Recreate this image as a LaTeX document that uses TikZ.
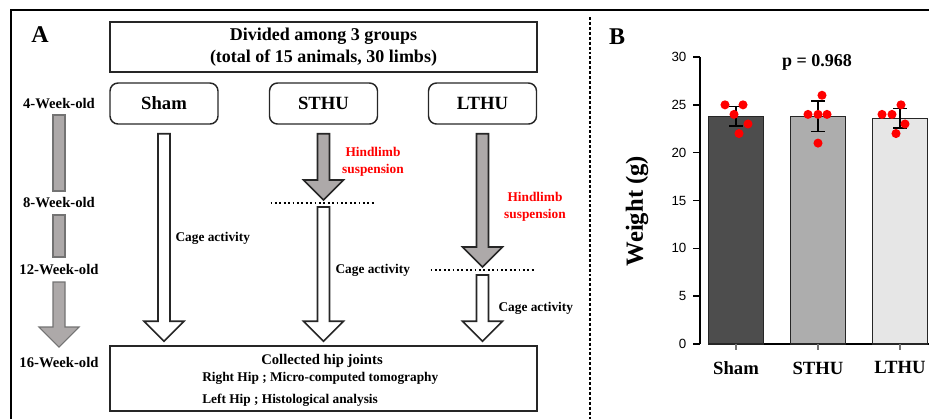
\documentclass[tikz,border=0pt]{standalone}
\usepackage{fontspec}
\setmainfont{Liberation Serif}
\setsansfont{Liberation Sans}
\usepackage{tikz}
\usetikzlibrary{calc}
\definecolor{arrgray}{HTML}{ADA9A9}
\definecolor{edge}{HTML}{262626}
\definecolor{hls}{HTML}{FF0000}
\definecolor{barA}{HTML}{4D4D4D}
\definecolor{barB}{HTML}{ADADAD}
\definecolor{barC}{HTML}{E6E6E6}
\tikzset{
  outline/.style={draw=black, line width=1.5pt},
  sepline/.style={draw=black, line width=2pt, dash pattern=on 2.2pt off 1.5pt},
  stageline/.style={draw=black, line width=1.2pt, dash pattern=on 1.4pt off 1.9pt},
  panlab/.style={font=\bfseries\fontsize{18}{20}\selectfont},
  infobox/.style={draw=edge, line width=1.1pt, minimum width=320.25pt, align=center,
    font=\bfseries\fontsize{13.5}{16.5}\selectfont},
  grpbox/.style={draw=edge, line width=1.1pt, rounded corners=6pt, minimum width=81pt,
    minimum height=30.75pt, font=\bfseries\fontsize{14}{16}\selectfont},
  agelab/.style={font=\bfseries\fontsize{11}{13}\selectfont},
  redlab/.style={text=hls, align=center, font=\bfseries\fontsize{10}{12.75}\selectfont},
  cagelab/.style={inner sep=1pt, font=\bfseries\fontsize{10}{12}\selectfont},
  boxtxt/.style={inner sep=1pt, font=\bfseries\fontsize{11}{13}\selectfont},
  boxsub/.style={inner sep=0pt, font=\bfseries\fontsize{10}{12}\selectfont},
  whitearr/.style={draw=edge, fill=white, line width=1.2pt},
  grayarr/.style={draw=edge, fill=arrgray, line width=1.2pt},
  timebar/.style={draw=black!55, fill=arrgray, line width=0.8pt},
  axisline/.style={draw=black, line width=1.1pt},
  xtick/.style={draw=black!55, line width=1.1pt},
  bar/.style={draw=edge, line width=0.8pt},
  errbar/.style={draw=black, line width=1.1pt},
  ptdot/.style={fill=hls},
  pval/.style={font=\bfseries\fontsize{13.5}{16}\selectfont},
  ylab/.style={font=\bfseries\fontsize{18.5}{20}\selectfont},
  grplab/.style={font=\bfseries\fontsize{14}{16}\selectfont},
  ticklab/.style={inner sep=1pt, font=\sffamily\fontsize{10}{11}\selectfont}
}
\newcommand{\blockarr}[3][whitearr]{%
  \draw[#1] ($(#2)+(-6,0)$) -- ($(#3)+(-6,-20)$) -- ($(#3)+(-20,-20)$) -- (#3)
    -- ($(#3)+(20,-20)$) -- ($(#3)+(6,-20)$) -- ($(#2)+(6,0)$) -- cycle;}

\begin{document}
\begin{tikzpicture}[x=0.75pt, y=-0.75pt]
  \useasboundingbox (0,0) rectangle (929,419);
  \draw[outline] (11,419) -- (11,10) -- (929,10);
  \draw[sepline] (590,17) -- (590,419);

  % panel A
  \node[panlab] (labA) at (40,35) {A};
  \node[infobox, minimum height=37.5pt] (groups) at (323.5,47)
    {Divided among 3 groups\\(total of 15 animals, 30 limbs)};
  \node[grpbox] (sham) at (164,103.5) {Sham};
  \node[grpbox] (sthu) at (323.5,103.5) {STHU};
  \node[grpbox] (lthu) at (482.5,103.5) {LTHU};
  \node[infobox, minimum height=48.75pt] (collect) at (323.5,378.5) {};
  \node[boxtxt] (hipT) at (322,361) {Collected hip joints};
  \node[boxsub, anchor=west] (hipR) at (202,378) {Right Hip ; Micro-computed tomography};
  \node[boxsub, anchor=west] (hipL) at (202,400) {Left Hip ; Histological analysis};

  \node[agelab] (w4) at (59,104) {4-Week-old};
  \node[agelab] (w8) at (59,203) {8-Week-old};
  \node[agelab] (w12) at (59,270) {12-Week-old};
  \node[agelab] (w16) at (59,363) {16-Week-old};
  \draw[timebar] ($(w4)+(-6,11)$) rectangle ($(w8)+(6,-12)$);
  \draw[timebar] ($(w8)+(-6,12)$) rectangle ($(w12)+(6,-13)$);
  \coordinate (tS) at ($(w12)+(0,12)$);
  \coordinate (tE) at ($(w16)+(0,-16)$);
  \blockarr[timebar]{tS}{tE}

  \coordinate (sthuCut) at (323.5,203);
  \coordinate (lthuCut) at (482.5,270);
  \draw[stageline] ($(sthuCut)+(-53,0)$) -- ($(sthuCut)+(52,0)$);
  \draw[stageline] ($(lthuCut)+(-52,0)$) -- ($(lthuCut)+(53,0)$);

  \coordinate (shamA) at ($(sham.south)+(0,9)$);
  \coordinate (shamB) at ($(collect.north -| sham)+(0,-4)$);
  \coordinate (sthuA) at ($(sthu.south)+(0,9)$);
  \coordinate (sthuB) at ($(sthuCut)+(0,-3)$);
  \coordinate (sthuC) at ($(sthuCut)+(0,4)$);
  \coordinate (sthuD) at ($(collect.north -| sthu)+(0,-4)$);
  \coordinate (lthuA) at ($(lthu.south)+(0,9)$);
  \coordinate (lthuB) at ($(lthuCut)+(0,-3)$);
  \coordinate (lthuC) at ($(lthuCut)+(0,5)$);
  \coordinate (lthuD) at ($(collect.north -| lthu)+(0,-4)$);
  \blockarr{shamA}{shamB}
  \blockarr[grayarr]{sthuA}{sthuB}
  \blockarr{sthuC}{sthuD}
  \blockarr[grayarr]{lthuA}{lthuB}
  \blockarr{lthuC}{lthuD}

  \node[redlab] (hls1) at (373,161.5) {Hindlimb\\suspension};
  \node[redlab] (hls2) at (535,206.5) {Hindlimb\\suspension};
  \node[cagelab, anchor=west] (cage1) at (174,238) {Cage activity};
  \node[cagelab, anchor=west] (cage2) at (334,270) {Cage activity};
  \node[cagelab, anchor=west] (cage3) at (497,308) {Cage activity};

  % panel B
  \node[panlab] (labB) at (617,37) {B};
  \node[pval] (pv) at (817,62) {p = 0.968};
  \node[ylab, rotate=90] (ytitle) at (637,211) {Weight (g)};
  \begin{scope}[shift={(700,344)}, y=7.175pt]
    \draw[axisline] (0,0) -- (0,30);
    \foreach \v in {0,5,...,30} {
      \draw[axisline] (-7,\v) -- (0,\v);
      \node[ticklab, anchor=east] (t\v) at (-12,\v) {\v};
    }
    \draw[axisline] (8,0) -- (229,0);
    \foreach \cx/\h/\col/\lo/\hi/\nm in {36/23.8/barA/22.8/24.8/Sham,
        118/23.8/barB/22.2/25.4/STHU, 200/23.6/barC/22.6/24.6/LTHU} {
      \draw[bar, fill=\col] (\cx-27.5,0) rectangle (\cx+27.5,\h);
      \draw[errbar] (\cx,\lo) -- (\cx,\hi) (\cx-7,\lo) -- (\cx+7,\lo)
        (\cx-7,\hi) -- (\cx+7,\hi);
      \draw[xtick] (\cx,0) -- (\cx,-0.6);
      \node[grplab] (x\nm) at (\cx,-2.5) {\nm};
    }
    \foreach \px/\py in {25/25, 43/25, 34/24, 48/23, 39/22,
        122/26, 108/24, 118/24, 127/24, 118/21,
        182/24, 192/24, 201/25, 205/23, 196/22}
      \fill[ptdot] (\px,\py) circle (3.4pt);
  \end{scope}
\end{tikzpicture}
\end{document}
